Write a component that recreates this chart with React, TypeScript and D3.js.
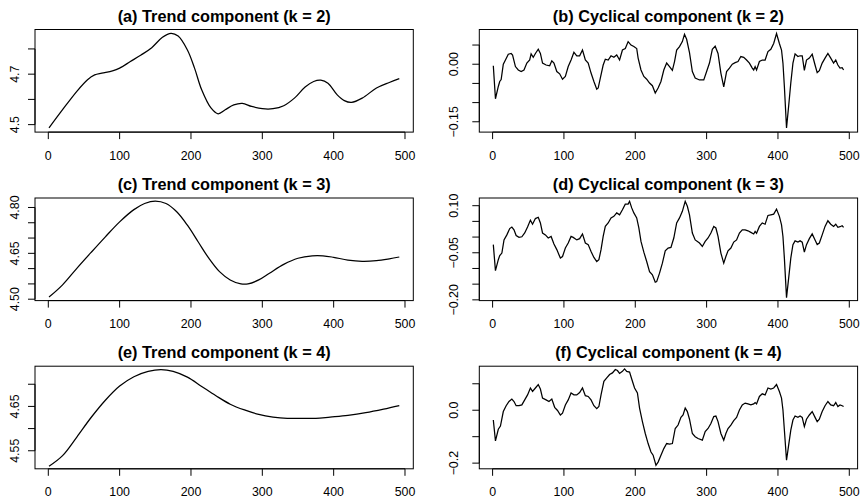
import React from "react";
import * as d3 from "d3";

const W = 862;
const H = 503;

// ---- data: [t, value] pairs ----
const trendK2: [number, number][] = [
  [1, 4.487], [20, 4.559], [40, 4.632], [55, 4.678], [65, 4.697], [75, 4.704], [90, 4.713],
  [100, 4.724], [115, 4.75], [130, 4.776], [145, 4.805], [160, 4.846], [172, 4.862], [182, 4.851],
  [195, 4.796], [205, 4.724], [215, 4.638], [228, 4.566], [238, 4.543], [248, 4.559], [260, 4.578],
  [272, 4.584], [285, 4.572], [300, 4.563], [315, 4.563], [330, 4.575], [345, 4.605], [360, 4.649],
  [372, 4.671], [382, 4.676], [392, 4.664], [405, 4.618], [415, 4.595], [425, 4.588], [440, 4.605],
  [460, 4.645], [478, 4.667], [492, 4.682],
];

const cycleK2: [number, number][] = [
  [1, -0.004], [4, -0.09], [8, -0.058], [10, -0.045], [12, -0.04], [15, 0], [18, 0.011], [22, 0.026],
  [26, 0.028], [28, 0.024], [32, -0.006], [36, -0.015], [40, -0.019], [44, -0.015], [48, 0.003],
  [52, 0.011], [54, 0.027], [57, 0.018], [60, 0.028], [64, 0.039], [67, 0.028], [70, 0.003],
  [75, -0.002], [80, -0.004], [83, 0.009], [86, 0.003], [90, -0.019], [94, -0.025], [98, -0.039],
  [102, -0.032], [106, -0.006], [110, 0.011], [114, 0.031], [118, 0.022], [122, 0.022], [126, 0.037],
  [130, 0.011], [134, 0.003], [138, -0.023], [142, -0.045], [146, -0.065], [148, -0.062], [151, -0.036],
  [155, -0.002], [158, 0.013], [162, 0.011], [166, 0.022], [170, 0.018], [174, 0.024], [178, 0.011],
  [182, 0.037], [186, 0.041], [190, 0.059], [194, 0.05], [198, 0.046], [202, 0.041], [204, 0.016],
  [208, -0.015], [212, -0.032], [216, -0.039], [220, -0.049], [224, -0.056], [228, -0.075],
  [232, -0.062], [236, -0.045], [240, -0.015], [244, 0.003], [248, -0.006], [252, -0.016],
  [255, 0.007], [258, 0.037], [262, 0.046], [266, 0.059], [269, 0.078], [272, 0.065], [276, 0.03],
  [280, -0.019], [284, -0.036], [290, -0.041], [296, -0.041], [300, -0.019], [304, 0.003],
  [308, 0.039], [312, 0.047], [316, 0.028], [320, -0.023], [324, -0.059], [328, -0.019],
  [332, -0.01], [336, 0], [340, 0.004], [344, 0.007], [348, 0.02], [352, 0.018], [356, 0.011],
  [360, 0.003], [364, -0.01], [366, -0.015], [368, -0.006], [370, -0.015], [374, 0.007], [378, 0.011],
  [382, 0.011], [386, 0.033], [390, 0.039], [394, 0.054], [398, 0.08], [402, 0.054], [405, 0.037],
  [407, 0.003], [409, -0.058], [412, -0.166], [415, -0.109], [418, -0.049], [421, 0.003], [424, 0.027],
  [428, 0.02], [431, 0.022], [434, 0.022], [437, -0.016], [440, 0.011], [444, 0.016], [448, 0.026],
  [452, -0.002], [455, -0.022], [458, -0.017], [462, 0.003], [466, 0.016], [470, 0.028], [474, 0.016],
  [478, 0.003], [481, 0.011], [484, -0.002], [487, -0.01], [490, -0.009], [492, -0.015],
];

const trendK3: [number, number][] = [
  [1, 4.507], [20, 4.547], [40, 4.601], [60, 4.653], [80, 4.704], [100, 4.753], [120, 4.793],
  [135, 4.813], [150, 4.821], [165, 4.813], [180, 4.786], [195, 4.742], [210, 4.688], [225, 4.634],
  [240, 4.59], [255, 4.563], [270, 4.55], [280, 4.55], [295, 4.563], [310, 4.585], [330, 4.614],
  [350, 4.634], [370, 4.642], [385, 4.642], [400, 4.637], [420, 4.628], [440, 4.624], [460, 4.626],
  [478, 4.632], [492, 4.638],
];

const cycleK3: [number, number][] = [
  [1, -0.024], [4, -0.107], [8, -0.072], [10, -0.059], [13, -0.051], [16, -0.009], [20, 0.007],
  [24, 0.027], [27, 0.032], [30, 0.023], [33, 0.005], [37, -0.001], [41, 0.001], [45, 0.013],
  [49, 0.032], [53, 0.054], [56, 0.041], [60, 0.059], [64, 0.063], [67, 0.045], [70, 0.013],
  [74, 0.007], [78, -0.003], [82, 0.002], [86, -0.022], [90, -0.04], [95, -0.067], [98, -0.062],
  [102, -0.035], [106, -0.019], [110, 0.002], [113, -0.001], [118, -0.009], [122, -0.005],
  [126, 0.01], [130, -0.019], [134, -0.024], [138, -0.046], [142, -0.065], [146, -0.078],
  [149, -0.072], [152, -0.04], [155, 0.002], [158, 0.034], [162, 0.045], [166, 0.061], [170, 0.066],
  [174, 0.077], [178, 0.071], [182, 0.087], [186, 0.105], [190, 0.105], [192, 0.114], [195, 0.093],
  [198, 0.077], [202, 0.061], [205, 0.029], [208, -0.014], [212, -0.048], [216, -0.078], [220, -0.11],
  [224, -0.12], [228, -0.144], [230, -0.142], [234, -0.115], [238, -0.083], [242, -0.044],
  [246, -0.035], [250, -0.033], [254, -0.003], [258, 0.045], [262, 0.061], [266, 0.082], [270, 0.114],
  [273, 0.098], [276, 0.071], [280, 0.013], [284, -0.009], [290, -0.019], [294, -0.03], [298, -0.014],
  [302, -0.003], [306, 0.013], [310, 0.034], [313, 0.029], [316, 0.002], [320, -0.051], [324, -0.083],
  [327, -0.062], [330, -0.044], [334, -0.035], [338, -0.016], [342, -0.009], [346, 0.013],
  [350, 0.023], [354, 0.023], [358, 0.02], [362, 0.015], [366, 0.01], [368, 0.018], [370, 0.012],
  [374, 0.034], [378, 0.045], [382, 0.041], [386, 0.069], [390, 0.071], [394, 0.073], [398, 0.089],
  [402, 0.066], [405, 0.039], [407, 0.002], [409, -0.067], [412, -0.193], [415, -0.131], [418, -0.067],
  [421, -0.024], [424, -0.012], [428, -0.016], [431, -0.012], [434, -0.016], [437, -0.048],
  [440, -0.024], [444, -0.005], [448, 0.01], [452, -0.009], [455, -0.024], [458, -0.019], [462, 0.007],
  [466, 0.034], [470, 0.052], [474, 0.041], [478, 0.034], [481, 0.041], [484, 0.031], [487, 0.033],
  [490, 0.036], [492, 0.031],
];

const trendK4: [number, number][] = [
  [1, 4.515], [20, 4.539], [40, 4.581], [60, 4.625], [80, 4.664], [100, 4.696], [120, 4.717],
  [140, 4.729], [158, 4.733], [175, 4.729], [195, 4.716], [215, 4.695], [235, 4.674], [255, 4.655],
  [275, 4.642], [295, 4.632], [315, 4.626], [335, 4.623], [355, 4.623], [375, 4.623], [395, 4.626],
  [420, 4.63], [445, 4.636], [470, 4.644], [492, 4.652],
];

const cycleK4: [number, number][] = [
  [1, -0.037], [4, -0.116], [8, -0.072], [11, -0.06], [15, -0.005], [19, 0.017], [23, 0.033],
  [27, 0.042], [30, 0.033], [33, 0.017], [37, 0.017], [41, 0.02], [45, 0.039], [49, 0.058],
  [53, 0.084], [56, 0.071], [60, 0.084], [64, 0.097], [67, 0.08], [70, 0.046], [75, 0.039],
  [79, 0.033], [83, 0.042], [87, 0.011], [91, -0.001], [95, -0.018], [98, -0.011], [102, 0.02],
  [106, 0.039], [110, 0.065], [114, 0.058], [118, 0.058], [122, 0.067], [126, 0.084], [130, 0.055],
  [134, 0.052], [138, 0.039], [142, 0.017], [146, 0.006], [149, 0.014], [152, 0.058], [156, 0.109],
  [160, 0.122], [164, 0.135], [168, 0.141], [172, 0.154], [175, 0.15], [178, 0.139], [182, 0.147],
  [185, 0.156], [188, 0.147], [192, 0.144], [195, 0.118], [199, 0.084], [203, 0.065], [206, 0.008],
  [210, -0.043], [214, -0.088], [218, -0.126], [222, -0.158], [225, -0.17], [229, -0.208],
  [232, -0.196], [236, -0.17], [240, -0.145], [244, -0.126], [248, -0.128], [252, -0.126],
  [256, -0.069], [260, -0.056], [264, -0.027], [267, -0.018], [270, 0.008], [273, -0.005],
  [276, -0.034], [280, -0.088], [284, -0.1], [288, -0.107], [294, -0.113], [298, -0.081],
  [302, -0.069], [306, -0.05], [310, -0.024], [313, -0.022], [316, -0.043], [320, -0.088],
  [324, -0.113], [327, -0.088], [330, -0.069], [334, -0.056], [338, -0.039], [342, -0.027],
  [346, 0.001], [350, 0.02], [354, 0.027], [358, 0.024], [362, 0.02], [366, 0.024], [368, 0.029],
  [370, 0.024], [374, 0.052], [378, 0.062], [382, 0.058], [386, 0.084], [390, 0.08], [394, 0.084],
  [398, 0.097], [402, 0.071], [405, 0.046], [407, 0.001], [409, -0.075], [412, -0.189], [415, -0.132],
  [418, -0.075], [421, -0.037], [424, -0.022], [428, -0.027], [431, -0.022], [434, -0.027],
  [437, -0.062], [440, -0.034], [444, -0.018], [448, -0.005], [452, -0.027], [455, -0.043],
  [458, -0.034], [462, -0.005], [466, 0.017], [470, 0.033], [474, 0.02], [478, 0.017], [481, 0.029],
  [484, 0.014], [487, 0.02], [490, 0.017], [492, 0.014],
];

// ---- axis settings ----
const xTicks = [0, 100, 200, 300, 400, 500];
const xDomain: [number, number] = [-18.64, 511.64];

const titles = [
  "(a) Trend component (k = 2)",
  "(b) Cyclical component (k = 2)",
  "(c) Trend component (k = 3)",
  "(d) Cyclical component (k = 3)",
  "(e) Trend component (k = 4)",
  "(f) Cyclical component (k = 4)",
];

const yDomains: [number, number][] = [
  [4.4704, 4.877],
  [-0.1769, 0.0905],
  [4.4954, 4.831],
  [-0.2024, 0.1245],
  [4.5093, 4.7407],
  [-0.2214, 0.1664],
];
const yTicks: number[][] = [
  [4.5, 4.6, 4.7, 4.8],
  [-0.15, -0.1, -0.05, 0, 0.05],
  [4.5, 4.55, 4.6, 4.65, 4.7, 4.75, 4.8],
  [-0.2, -0.15, -0.1, -0.05, 0, 0.05, 0.1],
  [4.55, 4.6, 4.65, 4.7],
  [-0.2, -0.1, 0, 0.1],
];
const yLabels: number[][] = [
  [4.5, 4.7],
  [-0.15, 0],
  [4.5, 4.65, 4.8],
  [-0.2, -0.05, 0.1],
  [4.55, 4.65],
  [-0.2, 0],
];
const yDecimals = [1, 2, 2, 2, 2, 1];
const seriesList = [trendK2, cycleK2, trendK3, cycleK3, trendK4, cycleK4];

// ---- layout ----
const colLeft = [35, 479.3];
const boxW = 378.3;
const rowTop = [29.5, 198, 366.2];
const boxH = 102.6;
const labelGap = [16, 21.5];

const FONT = "Liberation Sans, Arial, Helvetica, sans-serif";

function fmt(v: number, d: number) {
  const s = Math.abs(v).toFixed(d);
  return v < -1e-12 ? "\u2212" + s : s;
}

function Panel({ i }: { i: number }) {
  const col = i % 2;
  const row = Math.floor(i / 2);
  const x0 = colLeft[col];
  const y0 = rowTop[row];
  const isTrend = col === 0;
  const x = d3.scaleLinear().domain(xDomain).range([x0, x0 + boxW]);
  const y = d3.scaleLinear().domain(yDomains[i]).range([y0 + boxH, y0]);
  const line = d3
    .line<[number, number]>()
    .x((d) => x(d[0]))
    .y((d) => y(d[1]))
    .curve(isTrend ? d3.curveCatmullRom.alpha(0.5) : d3.curveLinear);
  const yb = y0 + boxH;
  const ticks = yTicks[i];
  return (
    <g>
      <text
        x={x0 + boxW / 2}
        y={y0 - 8}
        textAnchor="middle"
        fontFamily={FONT}
        fontWeight="bold"
        fontSize={16.3}
      >
        {titles[i]}
      </text>
      <path d={line(seriesList[i]) || ""} fill="none" stroke="#000" strokeWidth={1.25} />
      <rect x={x0} y={y0} width={boxW} height={boxH} fill="none" stroke="#000" strokeWidth={1} />
      {/* x axis */}
      <line x1={x(xTicks[0])} x2={x(xTicks[xTicks.length - 1])} y1={yb} y2={yb} stroke="#000" strokeWidth={1} />
      {xTicks.map((t) => (
        <g key={"x" + t}>
          <line x1={x(t)} x2={x(t)} y1={yb} y2={yb + 7} stroke="#000" strokeWidth={1} />
          <text x={x(t)} y={yb + 27.5} textAnchor="middle" fontFamily={FONT} fontSize={12.4}>
            {t}
          </text>
        </g>
      ))}
      {/* y axis */}
      <line x1={x0} x2={x0} y1={y(ticks[0])} y2={y(ticks[ticks.length - 1])} stroke="#000" strokeWidth={1} />
      {ticks.map((t) => (
        <line key={"yt" + t} x1={x0 - 7} x2={x0} y1={y(t)} y2={y(t)} stroke="#000" strokeWidth={1} />
      ))}
      {yLabels[i].map((t) => (
        <text
          key={"yl" + t}
          transform={`translate(${x0 - labelGap[col]},${y(t)}) rotate(-90)`}
          textAnchor="middle"
          fontFamily={FONT}
          fontSize={12.4}
        >
          {fmt(t, yDecimals[i])}
        </text>
      ))}
    </g>
  );
}

export default function App() {
  return (
    <svg width={W} height={H} style={{ position: "absolute", left: 0, top: 0, background: "#fff" }}>
      <rect x={0} y={0} width={W} height={H} fill="#fff" />
      {[0, 1, 2, 3, 4, 5].map((i) => (
        <Panel key={i} i={i} />
      ))}
    </svg>
  );
}
